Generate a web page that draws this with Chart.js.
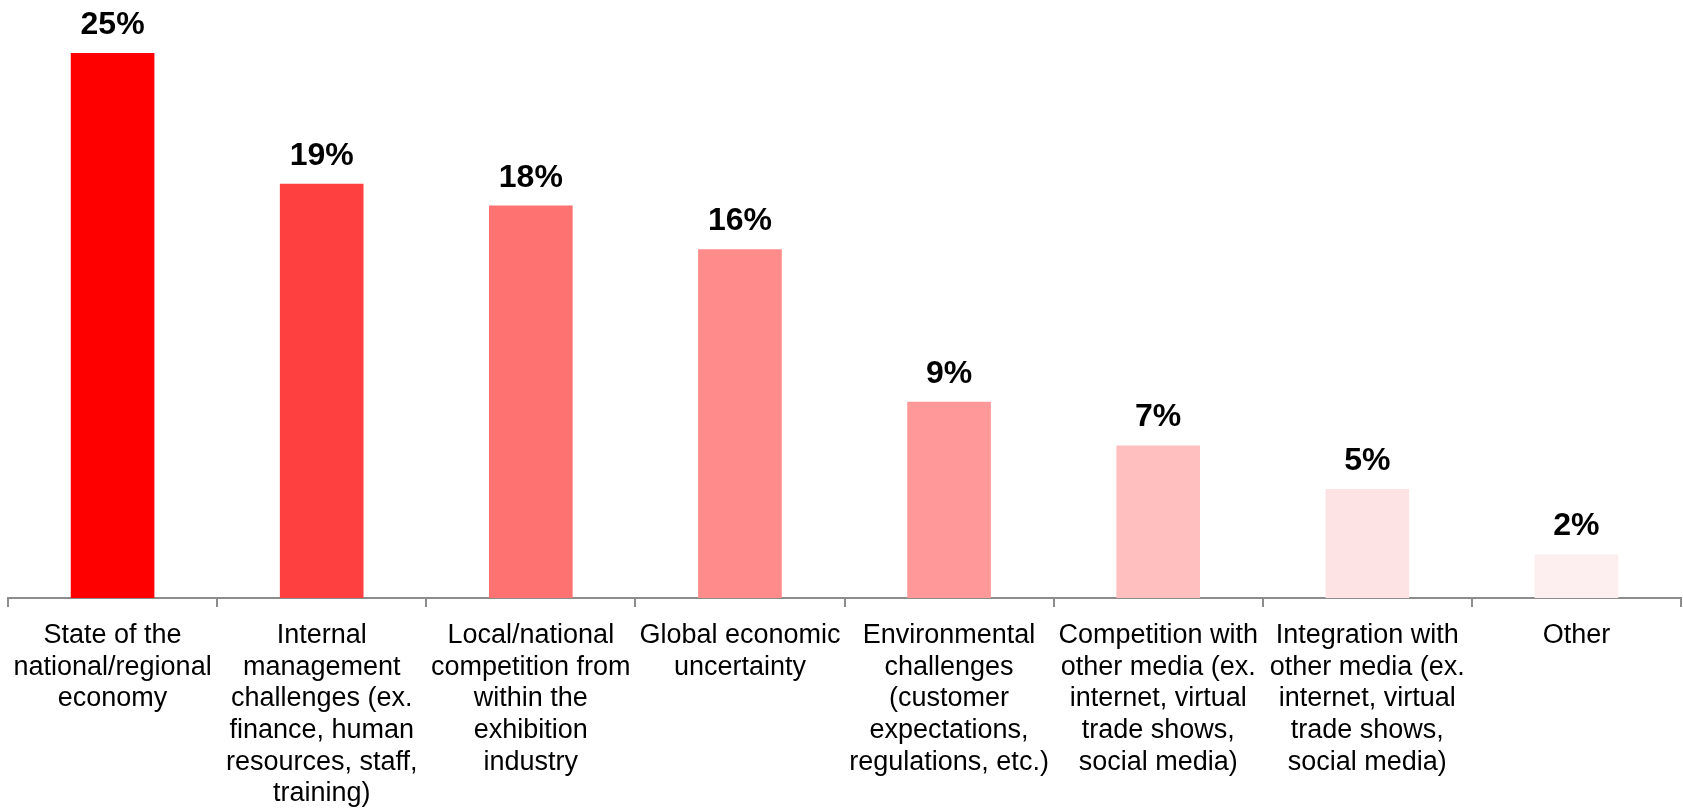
<!DOCTYPE html>
<html lang="en">
<head>
    <meta charset="UTF-8">
    <title>Challenges Facing the Exhibition Industry</title>
    <script src="https://cdn.jsdelivr.net/npm/chart.js"></script>
    <style>
        body {
            margin: 0;
            background-color: #ffffff;
        }
        #challengeChart {
            display: block;
        }
    </style>
</head>
<body>
    <canvas id="challengeChart" width="1683" height="809"></canvas>

    <script>
        const categories = [
            ['State of the', 'national/regional', 'economy'],
            ['Internal', 'management', 'challenges (ex.', 'finance, human', 'resources, staff,', 'training)'],
            ['Local/national', 'competition from', 'within the', 'exhibition', 'industry'],
            ['Global economic', 'uncertainty'],
            ['Environmental', 'challenges', '(customer', 'expectations,', 'regulations, etc.)'],
            ['Competition with', 'other media (ex.', 'internet, virtual', 'trade shows,', 'social media)'],
            ['Integration with', 'other media (ex.', 'internet, virtual', 'trade shows,', 'social media)'],
            ['Other']
        ];
        const shares = [25, 19, 18, 16, 9, 7, 5, 2];
        const barColors = ['#ff0000', '#ff4040', '#ff7272', '#ff8b8b', '#ff9999', '#ffbfbf', '#fde3e3', '#fdefef'];

        const FONT = "'Liberation Sans', Arial, sans-serif";
        const AXIS_GREY = '#8c8c8c';

        // percentage above each bar
        const valueLabels = {
            id: 'valueLabels',
            afterDatasetsDraw(chart) {
                const ctx = chart.ctx;
                const meta = chart.getDatasetMeta(0);
                ctx.save();
                ctx.font = 'bold 32px ' + FONT;
                ctx.fillStyle = '#000000';
                ctx.textAlign = 'center';
                ctx.textBaseline = 'alphabetic';
                meta.data.forEach((bar, i) => {
                    ctx.fillText(shares[i] + '%', bar.x, bar.y - 19);
                });
                ctx.restore();
            }
        };

        new Chart(document.getElementById('challengeChart'), {
            type: 'bar',
            data: {
                labels: categories,
                datasets: [{
                    data: shares,
                    backgroundColor: barColors,
                    borderWidth: 0,
                    categoryPercentage: 1,
                    barPercentage: 0.4
                }]
            },
            options: {
                responsive: false,
                animation: false,
                devicePixelRatio: 1,
                layout: { padding: { top: 53, left: 8, right: 2, bottom: 0 } },
                plugins: {
                    legend: { display: false },
                    tooltip: { enabled: false }
                },
                scales: {
                    y: {
                        display: false,
                        min: 0,
                        max: 25
                    },
                    x: {
                        border: { display: true, color: AXIS_GREY, width: 2 },
                        grid: {
                            display: true,
                            offset: true,
                            drawOnChartArea: false,
                            drawTicks: true,
                            tickLength: 9,
                            color: AXIS_GREY,
                            lineWidth: 2
                        },
                        ticks: {
                            autoSkip: false,
                            maxRotation: 0,
                            minRotation: 0,
                            padding: 13,
                            color: '#000000',
                            font: { family: FONT, size: 27, lineHeight: 1.17 }
                        },
                        afterFit(scale) {
                            scale.height = 211;
                        }
                    }
                }
            },
            plugins: [valueLabels]
        });
    </script>
</body>
</html>
